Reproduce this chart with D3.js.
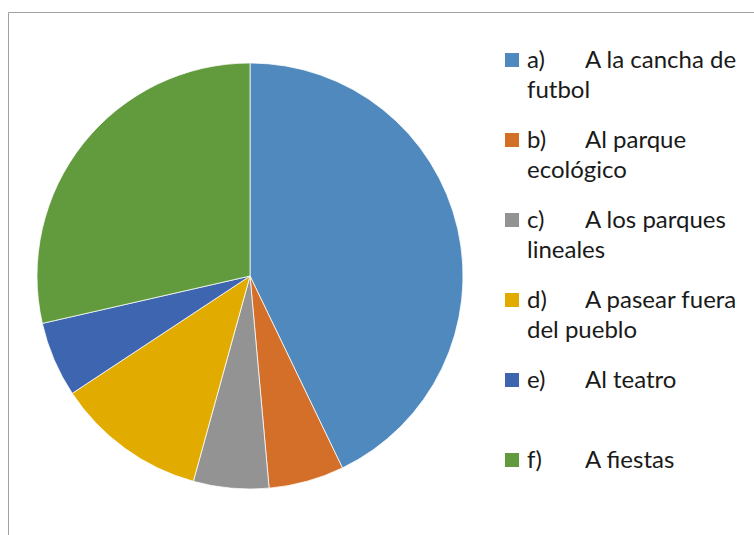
<html>
<head>
<meta charset="utf-8">
<title>Pie chart</title>
<style>
body { margin: 0; background: #fff; }
.legend text { font-family: Lato, "Noto Sans", sans-serif; font-size: 24px; fill: #1a1a1a; }
</style>
</head>
<body>
<script src="https://d3js.org/d3.v7.min.js"></script>
<script>
// data (counts, total 35)
var categories = ["a)", "b)", "c)", "d)", "e)", "f)"];
var values = [15, 2, 2, 4, 2, 10];
var firstLines = ["A la cancha de", "Al parque", "A los parques", "A pasear fuera", "Al teatro", "A fiestas"];
var secondLines = ["futbol", "ecológico", "lineales", "del pueblo", "", ""];
var colors = ["#4f89bd", "#d46f2a", "#939393", "#e2ab00", "#3e65af", "#629a3e"];

var width = 754, height = 535;

var svg = d3.select("body").append("svg")
    .attr("width", width)
    .attr("height", height);

// chart frame (only top and left edges are visible)
svg.append("path")
    .attr("d", "M8.5," + height + "V12.5H" + width)
    .attr("fill", "none")
    .attr("stroke", "#a0a0a0")
    .attr("stroke-width", 1);

// pie
var cx = 250, cy = 276, radius = 213;

var pie = d3.pie().sort(null).value(function(d) { return d; });
var arc = d3.arc().innerRadius(0).outerRadius(radius);

var g = svg.append("g")
    .attr("transform", "translate(" + cx + "," + cy + ")");

g.selectAll("path")
    .data(pie(values))
    .enter().append("path")
    .attr("d", arc)
    .attr("fill", function(d, i) { return colors[i]; })
    .attr("stroke", "#fff")
    .attr("stroke-width", 0.75);

// legend
var legend = svg.append("g").attr("class", "legend");

var item = legend.selectAll("g")
    .data(categories)
    .enter().append("g")
    .attr("transform", function(d, i) { return "translate(0," + (68 + i * 80) + ")"; });

item.append("rect")
    .attr("x", 505)
    .attr("y", -15)
    .attr("width", 14)
    .attr("height", 14)
    .attr("fill", function(d, i) { return colors[i]; });

item.append("text")
    .attr("x", 527)
    .text(function(d) { return d; });

item.append("text")
    .attr("x", 585)
    .text(function(d, i) { return firstLines[i]; });

item.append("text")
    .attr("x", 527)
    .attr("y", 30)
    .text(function(d, i) { return secondLines[i]; });
</script>
</body>
</html>
